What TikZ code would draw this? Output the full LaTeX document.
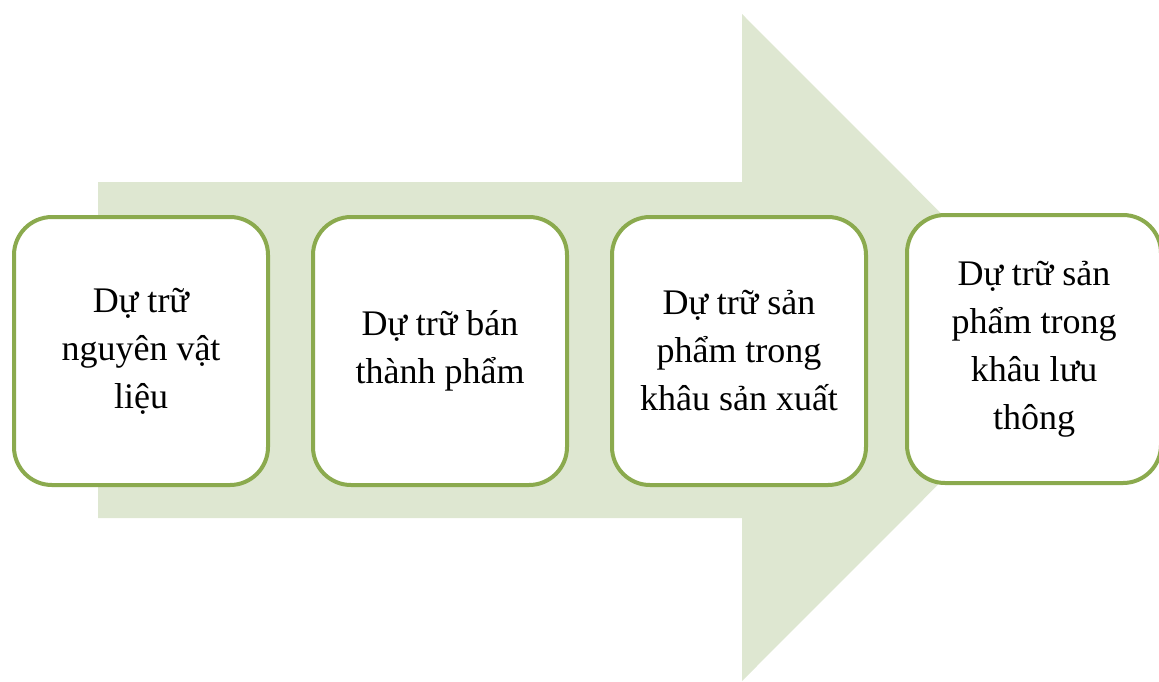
\documentclass[tikz,border=0pt]{standalone}
\usepackage{fontspec}
\setmainfont{Liberation Serif}
\definecolor{arrowfill}{RGB}{222,231,209}
\definecolor{boxborder}{RGB}{139,170,78}
\begin{document}
\begin{tikzpicture}[x=1pt,y=-1pt,
  stagebox/.style={draw=boxborder,line width=4pt,fill=white,rounded corners=38pt,
    minimum width=254pt,minimum height=268pt,inner sep=0pt,
    font=\fontsize{36}{48}\selectfont,align=center,text=black}]
\useasboundingbox (0,0) rectangle (1159,681);
\fill[arrowfill] (98,182) -- (742,182) -- (742,14) -- (1075,347.5) -- (742,681) -- (742,518) -- (98,518) -- cycle;
\node[stagebox] (b1) at (141,351) {Dự trữ\\nguyên vật\\liệu};
\node[stagebox] (b2) at (440,351) {Dự trữ bán\\thành phẩm};
\node[stagebox] (b3) at (739,351) {Dự trữ sản\\phẩm trong\\khâu sản xuất};
\node[stagebox] (b4) at (1034,349) {Dự trữ sản\\phẩm trong\\khâu lưu\\thông};
\end{tikzpicture}
\end{document}
